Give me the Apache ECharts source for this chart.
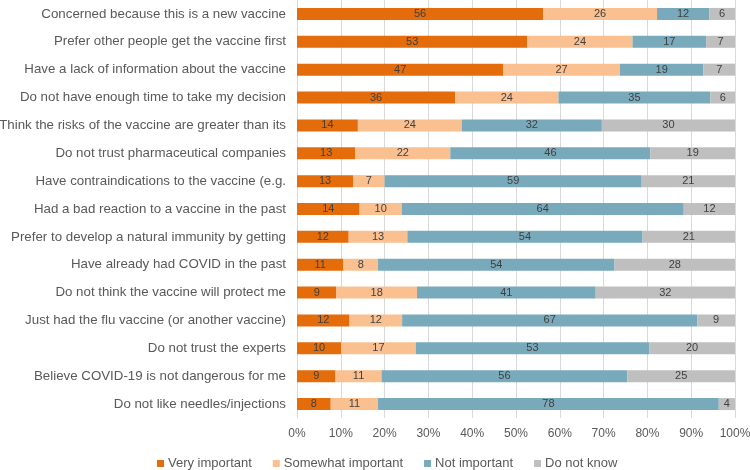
<!DOCTYPE html>
<html>
<head>
<meta charset="utf-8">
<script src="https://cdn.jsdelivr.net/npm/echarts@6/dist/echarts.min.js"></script>
<style>
  html, body { margin: 0; padding: 0; background: #fff; }
  #main { width: 750px; height: 470px; }
</style>
</head>
<body>
<div id="main"></div>
<script>
var categories = [
  'Concerned because this is a new vaccine',
  'Prefer other people get the vaccine first',
  'Have a lack of information about the vaccine',
  'Do not have enough time to take my decision',
  'Think the risks of the vaccine are greater than its',
  'Do not trust pharmaceutical companies',
  'Have contraindications to the vaccine (e.g.',
  'Had a bad reaction to a vaccine in the past',
  'Prefer to develop a natural immunity by getting',
  'Have already had COVID in the past',
  'Do not think the vaccine will protect me',
  'Just had the flu vaccine (or another vaccine)',
  'Do not trust the experts',
  'Believe COVID-19 is not dangerous for me',
  'Do not like needles/injections'
];

// percentages, top row first
var veryImportant     = [56.2, 52.6, 47.1, 36.1, 13.9, 13.3, 12.8, 14.3, 11.8, 10.6, 9.0, 12.0, 10.1, 8.8, 7.7];
var somewhatImportant = [26.0, 24.0, 26.6, 23.6, 23.7, 21.7, 7.2, 9.6, 13.4, 7.9, 18.4, 12.0, 17.0, 10.5, 10.8];
var notImportant      = [11.9, 16.8, 19.1, 34.7, 32.0, 45.7, 58.7, 64.4, 53.7, 54.0, 40.8, 67.4, 53.3, 56.1, 77.8];
var doNotKnow         = [6.0, 6.6, 7.2, 5.6, 30.4, 19.3, 21.3, 11.7, 21.1, 27.5, 31.8, 8.6, 19.6, 24.6, 3.7];

var chart = echarts.init(document.getElementById('main'));

function makeSeries(name, data, color) {
  return {
    name: name,
    type: 'bar',
    stack: 'total',
    barWidth: 12,
    data: data,
    itemStyle: { color: color },
    label: {
      show: true,
      position: 'inside',
      color: '#404040',
      fontSize: 11,
      fontFamily: 'Liberation Sans',
      formatter: function (p) { return Math.round(p.value); }
    }
  };
}

var option = {
  animation: false,
  textStyle: { fontFamily: 'Liberation Sans' },
  grid: { left: 297, right: 15, top: 0, bottom: 52, containLabel: false, outerBoundsMode: 'none' },
  legend: {
    top: 452,
    left: 152,
    icon: 'rect',
    itemWidth: 7,
    itemHeight: 7,
    itemGap: 21,
    textStyle: { color: '#595959', fontSize: 13, fontFamily: 'Liberation Sans', padding: [0, 0, 0, -1] },
    data: ['Very important', 'Somewhat important', 'Not important', 'Do not know']
  },
  xAxis: {
    type: 'value',
    min: 0,
    max: 100,
    interval: 10,
    axisLine: { show: false },
    axisTick: { show: false },
    axisLabel: { formatter: '{value}%', color: '#595959', fontSize: 12, margin: 10 },
    splitLine: { lineStyle: { color: '#d9d9d9', width: 1 } }
  },
  yAxis: {
    type: 'category',
    inverse: true,
    data: categories,
    axisLine: { show: true, lineStyle: { color: '#d9d9d9' } },
    axisTick: { show: false },
    axisLabel: { color: '#595959', fontSize: 13.3, margin: 11 }
  },
  series: [
    makeSeries('Very important', veryImportant, '#E46C0A'),
    makeSeries('Somewhat important', somewhatImportant, '#FAC090'),
    makeSeries('Not important', notImportant, '#79AABB'),
    makeSeries('Do not know', doNotKnow, '#BFBFBF')
  ]
};

chart.setOption(option);
</script>
</body>
</html>
